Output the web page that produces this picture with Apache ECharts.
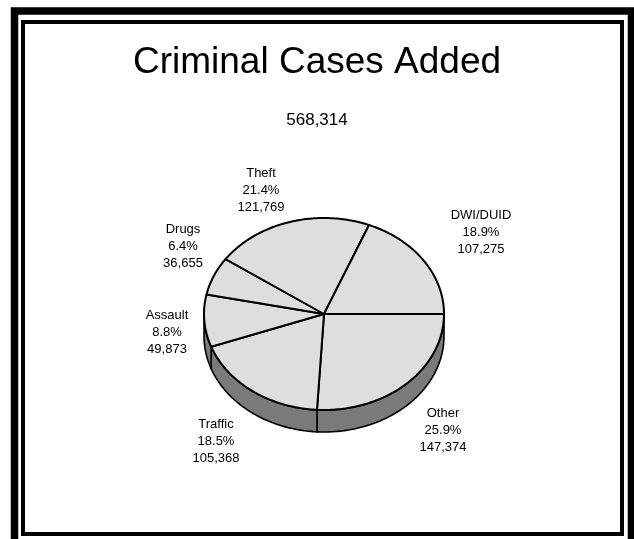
<!DOCTYPE html>
<html>
<head>
<meta charset="utf-8">
<script src="https://cdn.jsdelivr.net/npm/echarts@6/dist/echarts.min.js"></script>
<style>
html,body{margin:0;padding:0;background:#fff;}
#chart{width:634px;height:539px;}
</style>
</head>
<body>
<div id="chart"></div>
<script>
// ---- Data ----
const chartTitle = 'Criminal Cases Added';
const categories = ['Other', 'Traffic', 'Assault', 'Drugs', 'Theft', 'DWI/DUID'];
const caseCounts = [147374, 105368, 49873, 36655, 121769, 107275];

// ---- Layout / style (not data) ----
const PIE = { cx: 324, cy: 314, rx: 120, ry: 96, depth: 22, startDeg: 0 };
const LABEL_ANCHORS = {
  'Other': [443, 430],
  'Traffic': [216, 441],
  'Assault': [167, 332],
  'Drugs': [183, 246],
  'Theft': [261, 190],
  'DWI/DUID': [481, 232]
};
const FONT = '"Liberation Sans", Arial, sans-serif';
const TOP_COLOR = '#dedede';
const WALL_COLOR = '#7a7a7a';

const total = caseCounts.reduce((a, b) => a + b, 0);
const fmt = n => n.toLocaleString('en-US');

// cumulative angles
const angles = [];
(function () {
  let acc = PIE.startDeg * Math.PI / 180;
  caseCounts.forEach(v => {
    const a = acc, b = acc + v / total * Math.PI * 2;
    angles.push([a, b]);
    acc = b;
  });
})();

function pt(t, dy) {
  return [PIE.cx + PIE.rx * Math.cos(t), PIE.cy + PIE.ry * Math.sin(t) + (dy || 0)];
}
function arcPts(a, b, dy) {
  const pts = [];
  const n = Math.max(2, Math.ceil((b - a) / (Math.PI / 180)));
  for (let i = 0; i <= n; i++) pts.push(pt(a + (b - a) * i / n, dy));
  return pts;
}

const chart = echarts.init(document.getElementById('chart'), null, { renderer: 'canvas' });

const option = {
  animation: false,
  backgroundColor: '#ffffff',
  graphic: [
    { type: 'rect', shape: { x: 14.5, y: 11, width: 617, height: 560 },
      style: { fill: 'none', stroke: '#000', lineWidth: 7.5 }, z: 10 },
    { type: 'rect', shape: { x: 23, y: 22, width: 599, height: 512 },
      style: { fill: 'none', stroke: '#000', lineWidth: 4 }, z: 10 },
    { type: 'text', style: { text: chartTitle, x: 317, y: 63, align: 'center', verticalAlign: 'middle',
      font: '37px ' + FONT, fill: '#000' }, z: 10 },
    { type: 'text', style: { text: fmt(total), x: 317, y: 120, align: 'center', verticalAlign: 'middle',
      font: '17px ' + FONT, fill: '#000' }, z: 10 }
  ],
  series: [{
    type: 'custom',
    coordinateSystem: 'none',
    data: caseCounts.map((v, i) => ({ name: categories[i], value: v })),
    renderItem: function (params, api) {
      const i = params.dataIndex;
      const [a, b] = angles[i];
      const children = [];
      // side wall (front half only: screen angles 0..PI)
      const wa = Math.max(a, 0), wb = Math.min(b, Math.PI);
      if (wb > wa) {
        const top = arcPts(wa, wb, 0);
        const bot = arcPts(wa, wb, PIE.depth).reverse();
        children.push({
          type: 'polygon',
          shape: { points: top.concat(bot) },
          style: { fill: WALL_COLOR, stroke: '#000', lineWidth: 1.6, lineJoin: 'round' }
        });
      }
      // top wedge
      children.push({
        type: 'polygon',
        shape: { points: [[PIE.cx, PIE.cy]].concat(arcPts(a, b, 0)) },
        style: { fill: TOP_COLOR, stroke: '#000', lineWidth: 2, lineJoin: 'round' }
      });
      // label
      const name = categories[i];
      const anc = LABEL_ANCHORS[name];
      const pct = (caseCounts[i] / total * 100).toFixed(1) + '%';
      children.push({
        type: 'text',
        style: {
          text: name + '\n' + pct + '\n' + fmt(caseCounts[i]),
          x: anc[0], y: anc[1], align: 'center', verticalAlign: 'middle',
          font: '13px ' + FONT, lineHeight: 17, fill: '#000'
        }
      });
      return { type: 'group', children: children };
    }
  }]
};
chart.setOption(option);
</script>
</body>
</html>
